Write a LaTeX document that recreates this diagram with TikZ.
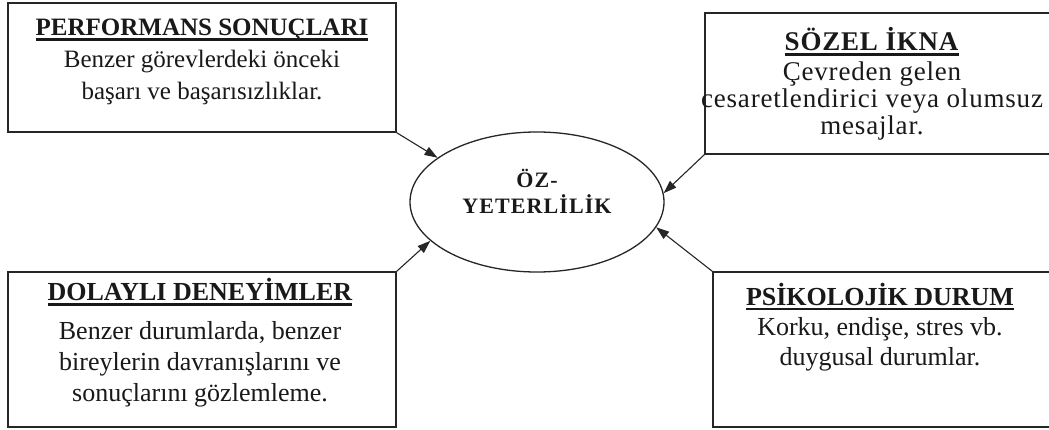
\documentclass[tikz,border=0pt]{standalone}
\usepackage{fontspec}
\setmainfont{Liberation Serif}
\usetikzlibrary{shapes.geometric,arrows.meta}
\newcommand\hd[1]{\sbox0{\textbf{#1}}\leavevmode\rlap{\rule[-5pt]{\wd0}{2.6pt}}\usebox0}
\tikzset{
  box/.style={draw=black!85, line width=1.5pt, rectangle, inner sep=0pt},
  txt/.style={align=center, inner sep=0pt, text=black!90},
  arr/.style={draw=black!85, line width=1.1pt, -{Triangle[length=13pt,width=9pt]}},
  ell/.style={draw=black!85, line width=1.3pt, ellipse, inner sep=0pt, minimum width=254pt, minimum height=140pt}
}
\begin{document}
\begin{tikzpicture}[x=1pt,y=-1pt]
\useasboundingbox[fill=white] (0,0) rectangle (1049,430);
% boxes
\node[box, minimum width=388pt, minimum height=129pt] (tl) at (202,67.5) {};
\node[box, minimum width=346pt, minimum height=141pt] (tr) at (878,83.5) {};
\node[box, minimum width=388pt, minimum height=155pt] (bl) at (202,349.5) {};
\node[box, minimum width=338pt, minimum height=155pt] (br) at (882,349.5) {};
\node[ell] (ell) at (537,202) {};
% texts
\node[txt, font=\fontsize{25}{32}\selectfont] (tlt) at (202,62)
  {\hd{PERFORMANS SONUÇLARI}\\Benzer görevlerdeki önceki\\başarı ve başarısızlıklar.};
\node[txt, font=\fontsize{27}{27}\selectfont\addfontfeatures{LetterSpace=3}] (trt) at (872,84)
  {\hd{SÖZEL İKNA}\\[3pt]Çevreden gelen\\cesaretlendirici veya olumsuz\\mesajlar.};
\node[txt, font=\fontsize{26}{31}\selectfont] (blt) at (200,343)
  {\hd{DOLAYLI DENEYİMLER}\\[8pt]Benzer durumlarda, benzer\\bireylerin davranışlarını ve\\sonuçlarını gözlemleme.};
\node[txt, font=\fontsize{26}{30}\selectfont] (brt) at (880,327)
  {\hd{PSİKOLOJİK DURUM}\\Korku, endişe, stres vb.\\duygusal durumlar.};
\node[txt, font=\bfseries\fontsize{22}{26}\selectfont\addfontfeatures{LetterSpace=5}] (elt) at (537,191)
  {ÖZ-\\YETERLİLİK};
% arrows
\draw[arr] (tl.south east) -- (ell.156);
\draw[arr] (bl.north east) -- (ell.200);
\draw[arr] (tr.south west) -- (ell.4);
\draw[arr] (br.north west) -- (ell.348);
\end{tikzpicture}
\end{document}
